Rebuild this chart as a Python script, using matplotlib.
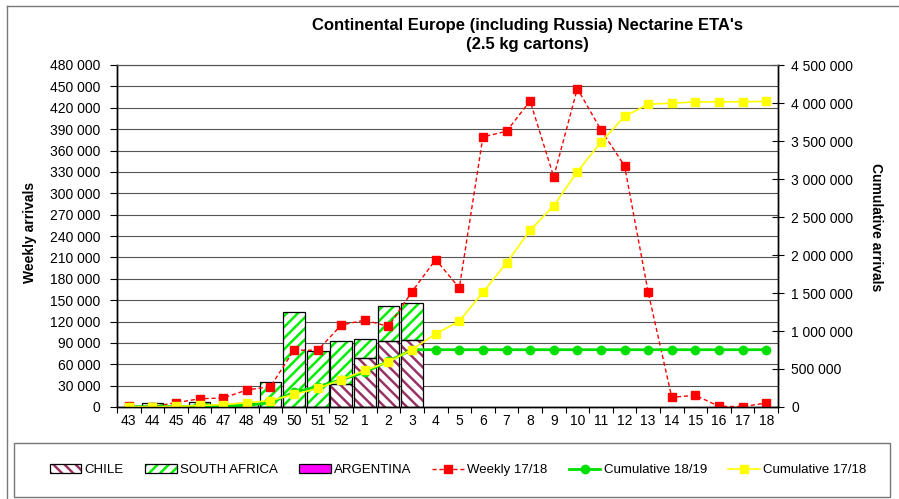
import matplotlib
matplotlib.use("Agg")
import matplotlib.pyplot as plt
import numpy as np
from matplotlib.patches import Patch, Rectangle
from matplotlib.lines import Line2D
from matplotlib.ticker import FuncFormatter, MultipleLocator

plt.rcParams['font.family'] = ['Liberation Sans', 'DejaVu Sans']
plt.rcParams['hatch.linewidth'] = 1.8

weeks = ['43', '44', '45', '46', '47', '48', '49', '50', '51', '52',
         '1', '2', '3', '4', '5', '6', '7', '8', '9', '10',
         '11', '12', '13', '14', '15', '16', '17', '18']

# weekly arrivals 18/19 by origin (cartons)
chile = [0, 0, 0, 0, 0, 0, 0, 0, 0, 32000, 69000, 92000, 94000,
         0, 0, 0, 0, 0, 0, 0, 0, 0, 0, 0, 0, 0, 0, 0]
south_africa = [0, 6000, 0, 7000, 1500, 6000, 35500, 134000, 78600, 60600, 26800, 49700, 51500,
                0, 0, 0, 0, 0, 0, 0, 0, 0, 0, 0, 0, 0, 0, 0]
argentina = [0] * 28

weekly_1718 = [1000, 500, 6000, 11600, 12600, 23900, 28500, 80000, 79500, 115000,
               122000, 113000, 162000, 207000, 167000, 379000, 387000, 429500, 323000, 447000,
               389000, 338500, 161000, 13600, 16400, 1000, 500, 5600]

cum_1819 = [0, 6000, 6000, 13000, 15000, 21000, 56000, 195000, 268000, 358000,
            458000, 603000, 754000, 754000, 754000, 754000, 754000, 754000, 754000, 754000,
            754000, 754000, 754000, 754000, 754000, 754000, 754000, 754000]

cum_1718 = [1000, 1500, 8000, 20000, 32000, 56000, 85000, 165000, 244000, 359000,
            481000, 594000, 756000, 963000, 1130000, 1509000, 1896000, 2326000, 2649000, 3096000,
            3485000, 3823000, 3984000, 3998000, 4014000, 4015000, 4016000, 4021000]

chile_col = '#993366'
sa_col = '#00EE00'
arg_col = '#FF00FF'

x = np.arange(len(weeks))
fmt = FuncFormatter(lambda v, p: '{:,.0f}'.format(v).replace(',', ' '))

fig = plt.figure(figsize=(8.99, 4.99), dpi=100)
ax = fig.add_axes([117 / 899, 1 - 407 / 499, (778 - 117) / 899, (407 - 65) / 499])
ax2 = ax.twinx()

# stacked bars: hatch layer then black outline
w = 0.92
ch = np.array(chile)
sa = np.array(south_africa)
ar = np.array(argentina)
ax.bar(x, ch, w, color='white', edgecolor=chile_col, hatch='\\\\\\', linewidth=0, zorder=2)
ax.bar(x, sa, w, bottom=ch, color='white', edgecolor=sa_col, hatch='///', linewidth=0, zorder=2)
ax.bar(x, ar, w, bottom=ch + sa, color=arg_col, linewidth=0, zorder=2)
for vals, bot in [(ch, np.zeros_like(ch)), (sa, ch), (ar, ch + sa)]:
    m = vals > 0
    ax.bar(x[m], vals[m], w, bottom=bot[m], color='none', edgecolor='black', linewidth=0.9, zorder=3)

ax.plot(x, weekly_1718, color='#FF0000', ls=(0, (3, 2)), lw=1, marker='s', ms=6,
        mec='#FF0000', mfc='#FF0000', zorder=4)

ax2.plot(x, cum_1819, color='#00E000', lw=2, marker='o', ms=6, mfc='#00E000', mec='#00E000')
ax2.plot(x, cum_1718, color='#FFFF00', lw=1.2, marker='s', ms=6, mfc='#FFFF00', mec='#FFFF00')

ax.set_xlim(-0.5, len(weeks) - 0.5)
ax.set_ylim(0, 480000)
ax2.set_ylim(0, 4500000)
ax.yaxis.set_major_locator(MultipleLocator(30000))
ax2.yaxis.set_major_locator(MultipleLocator(500000))
ax.yaxis.set_major_formatter(fmt)
ax2.yaxis.set_major_formatter(fmt)
ax.set_xticks(x)
ax.set_xticklabels(weeks)
ax.set_xticks(np.arange(-0.5, len(weeks), 1), minor=True)
ax.tick_params(axis='x', which='major', length=0, pad=5, labelsize=10)
ax.tick_params(axis='x', which='minor', length=4, direction='out', width=0.8)
ax.tick_params(axis='y', length=5, width=0.8, pad=7, labelsize=10)
ax2.tick_params(axis='y', length=9, direction='inout', width=0.8, pad=5, labelsize=10)

ax.grid(axis='y', color='#555555', lw=0.8, zorder=0)
ax.set_axisbelow(True)
for a in (ax, ax2):
    for s in a.spines.values():
        s.set_color('black')
        s.set_linewidth(1)
    a.spines['top'].set_color('#555555')
    a.spines['top'].set_linewidth(0.8)

fig.text(527 / 899, 1 - 35 / 499, "Continental Europe (including Russia) Nectarine ETA's\n(2.5 kg cartons)",
         ha='center', va='center', fontsize=12, fontweight='bold', linespacing=1.3)
fig.text(30 / 899, 1 - 232 / 499, 'Weekly arrivals', rotation=90, ha='center', va='center',
         fontsize=10, fontweight='bold')
fig.text(876 / 899, 1 - 227 / 499, 'Cumulative arrivals', rotation=-90, ha='center', va='center',
         fontsize=10, fontweight='bold')

# outer chart frame and legend box
fig.add_artist(Line2D([7 / 899, 7 / 899], [0, 1 - 6 / 499], color='#777777', lw=1))
fig.add_artist(Line2D([7 / 899, 1], [1 - 6 / 499, 1 - 6 / 499], color='#777777', lw=1))
fig.add_artist(Rectangle((14 / 899, 1 - 497 / 499), (890 - 14) / 899, (497 - 443) / 499,
                         transform=fig.transFigure, fill=False, edgecolor='#777777', lw=1))

handles = [
    (Patch(facecolor='white', edgecolor=chile_col, hatch='\\\\\\', lw=0), Patch(facecolor='none', edgecolor='black', lw=0.9)),
    (Patch(facecolor='white', edgecolor=sa_col, hatch='///', lw=0), Patch(facecolor='none', edgecolor='black', lw=0.9)),
    Patch(facecolor=arg_col, edgecolor='black', lw=0.9),
    Line2D([], [], color='#FF0000', ls=(0, (3, 2)), lw=1, marker='s', ms=6),
    Line2D([], [], color='#00E000', lw=2, marker='o', ms=6),
    Line2D([], [], color='#FFFF00', lw=1.2, marker='s', ms=6),
]
labels = ['CHILE', 'SOUTH AFRICA', 'ARGENTINA', 'Weekly 17/18', 'Cumulative 18/19', 'Cumulative 17/18']
fig.legend(handles, labels, loc='center', bbox_to_anchor=(458 / 899, 1 - 470 / 499), ncol=6,
           frameon=False, fontsize=9.5, handlelength=2.4, handleheight=0.6, handletextpad=0.25,
           columnspacing=1.6)

fig.savefig('out.png', dpi=100)
